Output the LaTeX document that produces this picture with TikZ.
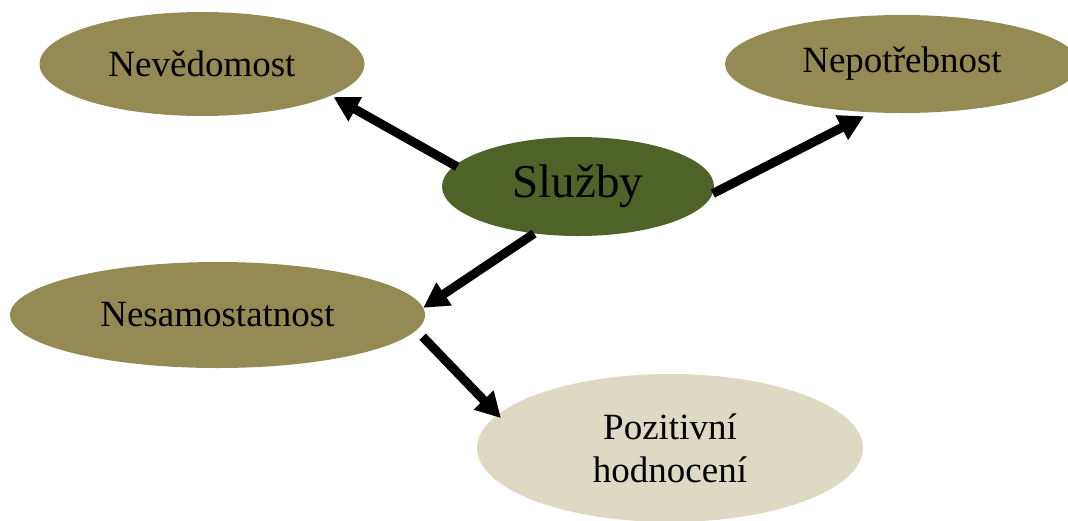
\documentclass[tikz,border=0pt]{standalone}
\usepackage{fontspec}
\setmainfont{Liberation Serif}
\usetikzlibrary{arrows.meta,shapes.geometric,calc}
\definecolor{olivetan}{HTML}{948A54}
\definecolor{darkolive}{HTML}{4F6228}
\definecolor{paletan}{HTML}{DDD9C3}

\begin{document}
\begin{tikzpicture}[x=1pt,y=-1pt,
  bubble/.style={ellipse, inner sep=0pt, align=center,
    font=\fontsize{37}{43}\selectfont},
  arr/.style={line width=9pt, -{Triangle[length=25pt,width=26pt]}}]
\useasboundingbox (0,0) rectangle (1068,520);
\clip (0,0) rectangle (1068,520);

% bubbles
\node[bubble, fill=olivetan, minimum width=325pt, minimum height=104pt]
  (nev) at (202,64) {Nevědomost};
\node[bubble, fill=olivetan, minimum width=354pt, minimum height=98pt]
  (nep) at (902,64) {Nepotřebnost};
\node[bubble, fill=darkolive, minimum width=272pt, minimum height=99pt,
  font=\fontsize{47}{52}\selectfont]
  (sl) at (578,186.5) {Služby};
\node[bubble, fill=olivetan, minimum width=415pt, minimum height=106pt]
  (nes) at (217.5,315) {Nesamostatnost};
\node[bubble, fill=paletan, minimum width=386pt, minimum height=148pt]
  (poz) at (670,448) {Pozitivní\\hodnocení};

% arrows
\draw[arr] ($(sl.171)+(4,0)$) -- ($(nev.-14)+(3,1)$);
\draw[arr] (sl.-3) -- ($(nep.-126)+(-3,4)$);
\draw[arr] (sl.-133) -- (nes.2);
\draw[arr] ($(nes.-6)+(13,1.5)$) -- ($(poz.170)+(6.5,1)$);
\end{tikzpicture}
\end{document}
